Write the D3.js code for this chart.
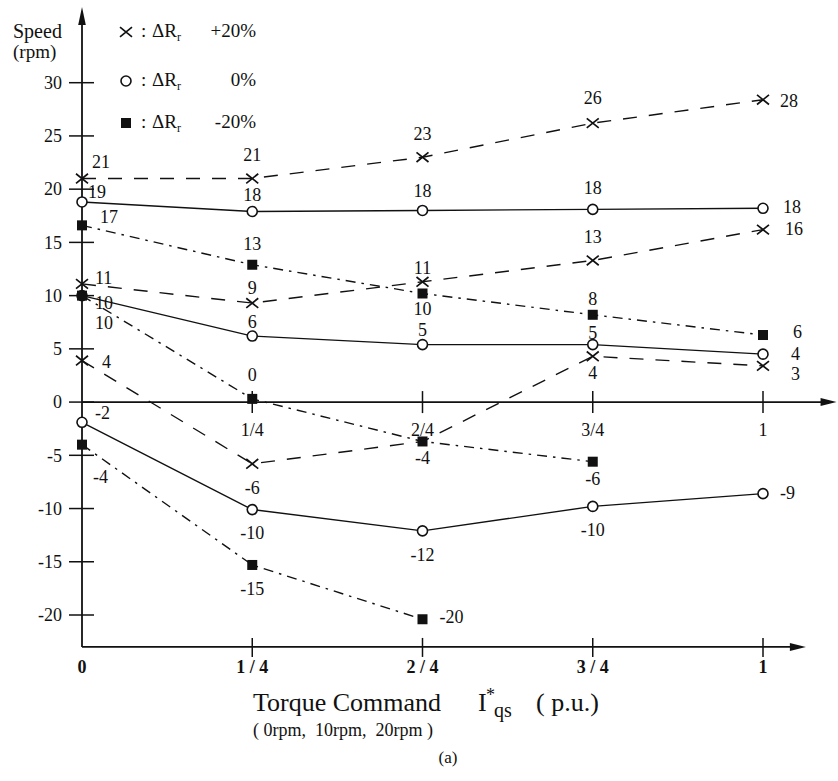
<!DOCTYPE html>
<html>
<head>
<meta charset="utf-8">
<script src="https://cdn.jsdelivr.net/npm/d3@7"></script>
<style>
  html, body { margin: 0; padding: 0; background: #fff; }
  svg { display: block; }
  svg text { font-family: "Liberation Serif", "Times New Roman", Times, serif; fill: #111; }
</style>
</head>
<body>
<div id="chart"></div>
<script>
// Torque command positions (p.u.) and tick labels
const torque = [0, 0.25, 0.5, 0.75, 1];
const bottomTickLabels = ['0', '1 / 4', '2 / 4', '3 / 4', '1'];
const zeroTickLabels = ['', '1/4', '2/4', '3/4', '1'];
const speedTicks = [30, 25, 20, 15, 10, 5, 0, -5, -10, -15, -20];
const legendValues = ['+20%', '0%', '-20%'];

// Speed (rpm), for speed commands 0, 10 and 20 rpm
const plus20_0rpm = [3.9, -5.8, -3.7, 4.3, 3.4];
const plus20_10rpm = [11.1, 9.3, 11.3, 13.3, 16.2];
const plus20_20rpm = [21, 21, 23, 26.2, 28.4];
const zero_0rpm = [-1.9, -10.1, -12.1, -9.8, -8.6];
const zero_10rpm = [10, 6.2, 5.4, 5.4, 4.5];
const zero_20rpm = [18.8, 17.9, 18.0, 18.1, 18.2];
const minus20_0rpm = [-4, -15.3, -20.4];
const minus20_10rpm = [10, 0.3, -3.7, -5.6];
const minus20_20rpm = [16.6, 12.9, 10.2, 8.2, 6.3];

// Numbers printed next to each point ('' = shares the label of another point)
const plus20_0rpm_txt = ['4', '-6', '', '4', '3'];
const plus20_10rpm_txt = ['11', '9', '11', '13', '16'];
const plus20_20rpm_txt = ['21', '21', '23', '26', '28'];
const zero_0rpm_txt = ['-2', '-10', '-12', '-10', '-9'];
const zero_10rpm_txt = ['10', '6', '5', '5', '4'];
const zero_20rpm_txt = ['19', '18', '18', '18', '18'];
const minus20_0rpm_txt = ['-4', '-15', '-20'];
const minus20_10rpm_txt = ['10', '0', '-4', '-6'];
const minus20_20rpm_txt = ['17', '13', '10', '8', '6'];

// Constants for the viz
const C = {
  width: 838,
  height: 781,
  x_range: [82, 763],
  y_range: [615, 82.7],
  stroke: '#111',
  line_width: 1.4,
  axis_width: 1.8,
  tick_font: 18,
  value_font: 18,
};

// Per group styles: marker and dash pattern
const groupStyle = {
  '+20%': {marker: 'cross', dash: '14,12'},
  '0%': {marker: 'circle', dash: null},
  '-20%': {marker: 'square', dash: '10,6,2.5,6'},
};

// Where each value label sits relative to its point [dx, dy]; dx 0 means centred
const labelOffsets = {
  plus20_20rpm: [[10, -11], [0, -18], [0, -17], [0, -19], [17, 7]],
  zero_20rpm: [[6, -4], [0, -11], [0, -13], [0, -15], [20, 5]],
  minus20_20rpm: [[18, -2], [0, -15], [0, 22], [0, -10], [30, 3]],
  plus20_10rpm: [[13, 0], [0, -9], [0, -8], [0, -17], [22, 5]],
  zero_10rpm: [[13, 13], [0, -8], [0, -9], [0, -6], [28, 6]],
  minus20_10rpm: [[13, 33], [0, -18], [0, 23], [0, 23]],
  plus20_0rpm: [[20, 7], [0, 30], [0, 0], [0, 23], [28, 14]],
  zero_0rpm: [[13, -3], [0, 29], [0, 30], [0, 30], [17, 5]],
  minus20_0rpm: [[11, 38], [0, 30], [17, 4]],
};

const series = [
  {key: 'plus20_20rpm', group: '+20%', values: plus20_20rpm, txt: plus20_20rpm_txt},
  {key: 'plus20_10rpm', group: '+20%', values: plus20_10rpm, txt: plus20_10rpm_txt},
  {key: 'plus20_0rpm', group: '+20%', values: plus20_0rpm, txt: plus20_0rpm_txt},
  {key: 'zero_20rpm', group: '0%', values: zero_20rpm, txt: zero_20rpm_txt},
  {key: 'zero_10rpm', group: '0%', values: zero_10rpm, txt: zero_10rpm_txt},
  {key: 'zero_0rpm', group: '0%', values: zero_0rpm, txt: zero_0rpm_txt},
  {key: 'minus20_20rpm', group: '-20%', values: minus20_20rpm, txt: minus20_20rpm_txt},
  {key: 'minus20_10rpm', group: '-20%', values: minus20_10rpm, txt: minus20_10rpm_txt},
  {key: 'minus20_0rpm', group: '-20%', values: minus20_0rpm, txt: minus20_0rpm_txt},
];

const svg = d3.select('#chart').append('svg')
  .attr('width', C.width)
  .attr('height', C.height)
  .attr('font-family', '"Liberation Serif", "Times New Roman", Times, serif');

const X = d3.scaleLinear().domain([0, 1]).range(C.x_range);
const Y = d3.scaleLinear().domain([-20, 30]).range(C.y_range);

const x0 = X(0), yZero = Y(0), yFloor = Y(-23);

//------------------------------------------------------------
// Axes
//------------------------------------------------------------
const axes = svg.append('g')
  .attr('stroke', C.stroke)
  .attr('stroke-width', C.axis_width)
  .attr('fill', 'none');

// vertical speed axis with arrow at top
const yTip = Y(37.1);
axes.append('line').attr('x1', x0).attr('x2', x0).attr('y1', yFloor).attr('y2', yTip + 6);
// zero line and bottom axis
const zeroTip = X(1.108), floorTip = X(1.063);
axes.append('line').attr('x1', x0).attr('x2', zeroTip - 6).attr('y1', yZero).attr('y2', yZero);
axes.append('line').attr('x1', x0).attr('x2', floorTip - 6).attr('y1', yFloor).attr('y2', yFloor);

function arrow(points){
  svg.append('path')
    .attr('d', 'M' + points.map(p => p.join(',')).join('L') + 'Z')
    .attr('fill', C.stroke);
}
arrow([[x0, yTip], [x0 - 3.8, yTip + 18], [x0 + 3.8, yTip + 18]]);
arrow([[zeroTip, yZero], [zeroTip - 16, yZero - 4], [zeroTip - 16, yZero + 4]]);
arrow([[floorTip, yFloor], [floorTip - 16, yFloor - 4], [floorTip - 16, yFloor + 4]]);

// speed ticks
axes.selectAll('.ytick').data(speedTicks).join('line')
  .attr('x1', x0 - 13).attr('x2', x0 + 12)
  .attr('y1', d => Y(d)).attr('y2', d => Y(d))
  .attr('stroke-width', 1.5);

svg.selectAll('.ylabel').data(speedTicks).join('text')
  .attr('x', x0 - 20)
  .attr('y', d => Y(d))
  .attr('dy', '0.35em')
  .attr('text-anchor', 'end')
  .attr('font-size', C.tick_font)
  .text(d => d);

// torque ticks on the zero line and on the bottom axis
const inner = torque.filter(t => t > 0);
axes.selectAll('.ztick').data(inner).join('line')
  .attr('x1', d => X(d)).attr('x2', d => X(d))
  .attr('y1', yZero - 11).attr('y2', yZero + 11)
  .attr('stroke-width', 1.5);
axes.selectAll('.btick').data(inner).join('line')
  .attr('x1', d => X(d)).attr('x2', d => X(d))
  .attr('y1', yFloor - 9).attr('y2', yFloor + 10)
  .attr('stroke-width', 1.5);

svg.selectAll('.zlabel').data(torque).join('text')
  .attr('x', d => X(d))
  .attr('y', yZero + 34)
  .attr('text-anchor', 'middle')
  .attr('font-size', C.tick_font)
  .text((d, i) => zeroTickLabels[i]);

svg.selectAll('.blabel').data(torque).join('text')
  .attr('x', d => X(d))
  .attr('y', yFloor + 26)
  .attr('text-anchor', 'middle')
  .attr('font-size', C.tick_font)
  .attr('font-weight', 'bold')
  .text((d, i) => bottomTickLabels[i]);

//------------------------------------------------------------
// Axis titles
//------------------------------------------------------------
svg.append('text').attr('x', 13).attr('y', 38).attr('font-size', 20).text('Speed');
svg.append('text').attr('x', 13).attr('y', 58).attr('font-size', 19).text('(rpm)');

const title = svg.append('text').attr('y', 711).attr('font-size', 26);
title.append('tspan').attr('x', 253).text('Torque Command');
title.append('tspan').attr('x', 478).text('I');
title.append('tspan').attr('x', 486).attr('dy', -10).attr('font-size', 18).text('*');
title.append('tspan').attr('x', 494).attr('dy', 16).attr('font-size', 20).text('qs');
title.append('tspan').attr('x', 536).attr('dy', -6).text('( p.u.)');

svg.append('text').attr('x', 253).attr('y', 736).attr('font-size', 18)
  .attr('xml:space', 'preserve')
  .text('( 0rpm,  10rpm,  20rpm )');

svg.append('text').attr('x', 448).attr('y', 763).attr('font-size', 17)
  .attr('text-anchor', 'middle').text('(a)');

//------------------------------------------------------------
// Markers
//------------------------------------------------------------
function drawMarker(g, type, cx, cy){
  if(type === 'cross'){
    const s = 6;
    g.append('path')
      .attr('d', `M${cx - s},${cy - s * 0.8}L${cx + s},${cy + s * 0.8}M${cx - s},${cy + s * 0.8}L${cx + s},${cy - s * 0.8}`)
      .attr('stroke', C.stroke).attr('stroke-width', 1.7).attr('fill', 'none');
  } else if(type === 'circle'){
    g.append('circle').attr('cx', cx).attr('cy', cy).attr('r', 5)
      .attr('fill', '#fff').attr('stroke', C.stroke).attr('stroke-width', 1.6);
  } else {
    g.append('rect').attr('x', cx - 5).attr('y', cy - 5).attr('width', 10).attr('height', 10)
      .attr('fill', C.stroke);
  }
}

//------------------------------------------------------------
// Series
//------------------------------------------------------------
const line = d3.line().x((d, i) => X(torque[i])).y(d => Y(d));

svg.append('g').selectAll('path').data(series).join('path')
  .attr('d', d => line(d.values))
  .attr('fill', 'none')
  .attr('stroke', C.stroke)
  .attr('stroke-width', C.line_width)
  .attr('stroke-dasharray', d => groupStyle[d.group].dash);

// Points that share a label with another series are hidden under that marker
const markerLayer = svg.append('g');
series.forEach(s => {
  s.values.forEach((v, i) => {
    if(!s.txt[i]) return;
    drawMarker(markerLayer, groupStyle[s.group].marker, X(torque[i]), Y(v));
  });
});

const labelLayer = svg.append('g').attr('font-size', C.value_font);
series.forEach(s => {
  s.values.forEach((v, i) => {
    if(!s.txt[i]) return;
    const [dx, dy] = labelOffsets[s.key][i];
    labelLayer.append('text')
      .attr('x', X(torque[i]) + dx)
      .attr('y', Y(v) + dy)
      .attr('text-anchor', dx === 0 ? 'middle' : 'start')
      .text(s.txt[i]);
  });
});

//------------------------------------------------------------
// Legend
//------------------------------------------------------------
const legendY = [37, 86, 128];
const legend = svg.append('g').attr('font-size', 19);
legendValues.forEach((val, i) => {
  const by = legendY[i];
  drawMarker(legend, groupStyle[val].marker, 126, by - 5);
  legend.append('text').attr('x', 141).attr('y', by).text(':');
  const t = legend.append('text').attr('x', 152).attr('y', by);
  t.append('tspan').text('ΔR');
  t.append('tspan').attr('dy', 4).attr('font-size', 12).text('r');
  legend.append('text').attr('x', 256).attr('y', by).attr('text-anchor', 'end').text(val);
});
</script>
</body>
</html>
